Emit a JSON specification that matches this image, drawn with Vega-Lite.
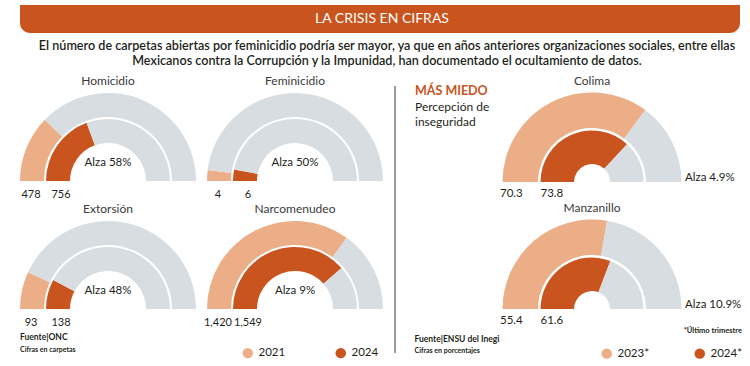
{
  "$schema": "https://vega.github.io/schema/vega-lite/v6.json",
  "padding": {"left": 20, "top": 5, "right": 0, "bottom": 0},
  "background": "white",
  "config": {
    "view": {"stroke": null},
    "font": "Lato",
    "text": {"font": "Lato", "color": "#231f20"},
    "title": {"font": "Lato", "color": "#231f20", "subtitleFont": "Lato", "subtitleColor": "#231f20"},
    "header": {"title": null, "labelFont": "Lato", "labelFontSize": 12, "labelColor": "#3a3a3a", "labelPadding": 5}
  },
  "datasets": {
    "carpetas": [
      {"panel": "Homicidio", "ring": "exterior", "key": "2021", "amount": 478},
      {"panel": "Homicidio", "ring": "exterior", "key": "resto", "amount": 1472},
      {"panel": "Homicidio", "ring": "interior", "key": "2024", "amount": 756, "alza": "Alza 58%"},
      {"panel": "Homicidio", "ring": "interior", "key": "resto", "amount": 1194},
      {"panel": "Feminicidio", "ring": "exterior", "key": "2021", "amount": 4},
      {"panel": "Feminicidio", "ring": "exterior", "key": "resto", "amount": 96},
      {"panel": "Feminicidio", "ring": "interior", "key": "2024", "amount": 6, "alza": "Alza 50%"},
      {"panel": "Feminicidio", "ring": "interior", "key": "resto", "amount": 94},
      {"panel": "Extorsión", "ring": "exterior", "key": "2021", "amount": 93},
      {"panel": "Extorsión", "ring": "exterior", "key": "resto", "amount": 586},
      {"panel": "Extorsión", "ring": "interior", "key": "2024", "amount": 138, "alza": "Alza 48%"},
      {"panel": "Extorsión", "ring": "interior", "key": "resto", "amount": 752},
      {"panel": "Narcomenudeo", "ring": "exterior", "key": "2021", "amount": 1420},
      {"panel": "Narcomenudeo", "ring": "exterior", "key": "resto", "amount": 609},
      {"panel": "Narcomenudeo", "ring": "interior", "key": "2024", "amount": 1549, "alza": "Alza 9%"},
      {"panel": "Narcomenudeo", "ring": "interior", "key": "resto", "amount": 463}
    ],
    "percepcion": [
      {"panel": "Colima", "ring": "exterior", "key": "2023*", "amount": 70.3},
      {"panel": "Colima", "ring": "exterior", "key": "resto", "amount": 29.7},
      {"panel": "Colima", "ring": "interior", "key": "2024*", "amount": 73.8, "alza": "Alza 4.9%"},
      {"panel": "Colima", "ring": "interior", "key": "resto", "amount": 26.2},
      {"panel": "Manzanillo", "ring": "exterior", "key": "2023*", "amount": 55.4},
      {"panel": "Manzanillo", "ring": "exterior", "key": "resto", "amount": 44.6},
      {"panel": "Manzanillo", "ring": "interior", "key": "2024*", "amount": 61.6, "alza": "Alza 10.9%"},
      {"panel": "Manzanillo", "ring": "interior", "key": "resto", "amount": 38.4}
    ]
  },
  "spacing": 6,
  "vconcat": [
    {
      "data": {"values": [{"banner": "LA CRISIS EN CIFRAS"}]},
      "width": 720,
      "height": 28,
      "title": {
        "text": ["El número de carpetas abiertas por feminicidio podría ser mayor, ya que en años anteriores organizaciones sociales, entre ellas", "Mexicanos contra la Corrupción y la Impunidad, han documentado el ocultamiento de datos."],
        "orient": "bottom", "anchor": "middle", "offset": 7, "fontSize": 12.6, "fontWeight": 600, "lineHeight": 15, "dx": 7
      },
      "layer": [
        {"mark": {"type": "rect", "color": "#C9541E", "cornerRadiusBottomLeft": 10, "cornerRadiusBottomRight": 10},
         "encoding": {"x": {"value": 0}, "x2": {"value": "width"}, "y": {"value": 0}, "y2": {"value": "height"}}},
        {"mark": {"type": "text", "color": "white", "fontSize": 14, "align": "center", "baseline": "middle", "dx": 2},
         "encoding": {"text": {"field": "banner"}}}
      ]
    },
    {
      "spacing": 11,
      "resolve": {"scale": {"color": "independent", "theta": "independent"}, "legend": {"color": "independent"}},
      "hconcat": [
        {
          "data": {"name": "carpetas"},
          "facet": {"field": "panel", "type": "nominal", "sort": ["Homicidio", "Feminicidio", "Extorsión", "Narcomenudeo"]},
          "columns": 2,
          "spacing": {"column": 7, "row": 2},
          "title": {"text": "Fuente|ONC", "subtitle": "Cifras en carpetas", "orient": "bottom", "anchor": "start", "offset": -26, "fontSize": 8.5, "fontWeight": "bold", "subtitleFontSize": 7, "subtitleFontWeight": "bold", "subtitlePadding": 4},
          "spec": {
            "width": 176,
            "height": 88,
            "layer": [
              {"transform": [{"filter": "datum.ring == 'exterior'"}],
               "mark": {"type": "arc", "radius": 88, "radius2": 64},
               "encoding": {
                 "theta": {"field": "amount", "type": "quantitative", "stack": "normalize", "scale": {"domain": [0, 1], "range": [-1.5708, 1.5708]}},
                 "order": {"field": "key", "sort": "ascending"},
                 "color": {"field": "key", "type": "nominal", "scale": {"domain": ["2021", "2024", "resto"], "range": ["#ECAE86", "#C9541E", "#D8DDE1"]},
                   "legend": {"orient": "none", "legendX": 222, "legendY": 254, "direction": "horizontal", "values": ["2021", "2024"], "title": null, "symbolType": "circle", "symbolSize": 110, "symbolStrokeWidth": 0, "labelFontSize": 11.5, "labelOffset": 5, "columnPadding": 49, "labelColor": "#231f20", "labelFont": "Lato", "padding": 0}},
                 "y": {"value": "height"}
               }},
              {"transform": [{"filter": "datum.ring == 'interior'"}],
               "mark": {"type": "arc", "radius": 62, "radius2": 38},
               "encoding": {
                 "theta": {"field": "amount", "type": "quantitative", "stack": "normalize", "scale": {"domain": [0, 1], "range": [-1.5708, 1.5708]}},
                 "order": {"field": "key", "sort": "ascending"},
                 "color": {"field": "key", "type": "nominal"},
                 "y": {"value": "height"}
               }},
              {"transform": [{"filter": "datum.ring == 'exterior' && datum.key != 'resto'"}],
               "mark": {"type": "text", "radius": 77, "theta": -1.5708, "dy": 14, "fontSize": 11, "align": "center", "baseline": "middle"},
               "encoding": {"text": {"field": "amount", "type": "quantitative", "format": ",d"}, "y": {"value": "height"}}},
              {"transform": [{"filter": "datum.ring == 'interior' && datum.key != 'resto'"}],
               "mark": {"type": "text", "radius": 47, "theta": -1.5708, "dy": 14, "fontSize": 11, "align": "center", "baseline": "middle"},
               "encoding": {"text": {"field": "amount", "type": "quantitative", "format": ",d"}, "y": {"value": "height"}}},
              {"transform": [{"filter": "datum.ring == 'interior' && datum.key != 'resto'"}],
               "mark": {"type": "text", "dy": -18, "fontSize": 11.5, "align": "center", "baseline": "middle"},
               "encoding": {"text": {"field": "alza", "type": "nominal"}, "y": {"value": "height"}}}
            ]
          }
        },
        {
          "spacing": 0,
          "hconcat": [
            {
              "width": 60,
              "height": 260,
              "data": {"values": [{"linea": "MÁS MIEDO", "tipo": "titulo"}, {"linea": "Percepción de", "tipo": "texto"}, {"linea": "inseguridad", "tipo": "texto"}]},
              "title": {"text": "Fuente|ENSU del Inegi", "subtitle": "Cifras en porcentajes", "orient": "bottom", "anchor": "start", "offset": -19, "dx": 20, "fontSize": 8.5, "fontWeight": "bold", "subtitleFontSize": 7, "subtitleFontWeight": "bold", "subtitlePadding": 4},
              "layer": [
                {"data": {"values": [{}]},
                 "mark": {"type": "rule", "color": "#3a3a3a", "strokeWidth": 1},
                 "encoding": {"x": {"value": 0}, "y": {"value": -7}, "y2": {"value": "height"}}},
                {"transform": [{"filter": "datum.tipo == 'titulo'"}],
                 "mark": {"type": "text", "align": "left", "baseline": "middle", "fontSize": 12.5, "fontWeight": "bold", "color": "#C9541E"},
                 "encoding": {"x": {"value": 20}, "y": {"field": "linea", "type": "ordinal", "sort": ["MÁS MIEDO", "Percepción de", "inseguridad"], "axis": null, "scale": {"type": "point", "domain": ["MÁS MIEDO", "Percepción de", "inseguridad"], "range": [-2, 29], "padding": 0}}, "text": {"field": "linea"}}},
                {"transform": [{"filter": "datum.tipo == 'texto'"}],
                 "mark": {"type": "text", "align": "left", "baseline": "middle", "fontSize": 12},
                 "encoding": {"x": {"value": 20}, "y": {"field": "linea", "type": "ordinal", "sort": ["MÁS MIEDO", "Percepción de", "inseguridad"], "axis": null, "scale": {"type": "point", "domain": ["MÁS MIEDO", "Percepción de", "inseguridad"], "range": [-2, 29], "padding": 0}}, "text": {"field": "linea"}}}
              ]
            },
            {
              "data": {"name": "percepcion"},
              "facet": {"field": "panel", "type": "nominal", "sort": ["Colima", "Manzanillo"]},
              "columns": 1,
              "spacing": {"row": 1},
              "spec": {
                "width": 180,
                "height": 89,
                "layer": [
                  {"transform": [{"filter": "datum.ring == 'exterior'"}],
                   "mark": {"type": "arc", "radius": 89.5, "radius2": 54},
                   "encoding": {
                     "theta": {"field": "amount", "type": "quantitative", "stack": "normalize", "scale": {"domain": [0, 1], "range": [-1.5708, 1.5708]}},
                     "order": {"field": "key", "sort": "ascending"},
                     "color": {"field": "key", "type": "nominal", "scale": {"domain": ["2023*", "2024*", "resto"], "range": ["#ECAE86", "#C9541E", "#D8DDE1"]},
                       "legend": {"orient": "none", "legendX": 206, "legendY": 234, "direction": "horizontal", "values": ["2023*", "2024*"], "title": "*Último trimestre", "titleAnchor": "end", "titleFontSize": 7.5, "titleFontWeight": "bold", "titlePadding": 13, "titleColor": "#231f20", "titleFont": "Lato", "symbolType": "circle", "symbolSize": 110, "symbolStrokeWidth": 0, "labelFontSize": 11.5, "labelOffset": 5, "columnPadding": 44, "labelColor": "#231f20", "labelFont": "Lato", "padding": 0}},
                     "y": {"value": "height"}
                   }},
                  {"transform": [{"filter": "datum.ring == 'interior'"}],
                   "mark": {"type": "arc", "radius": 51.5, "radius2": 18},
                   "encoding": {
                     "theta": {"field": "amount", "type": "quantitative", "stack": "normalize", "scale": {"domain": [0, 1], "range": [-1.5708, 1.5708]}},
                     "order": {"field": "key", "sort": "ascending"},
                     "color": {"field": "key", "type": "nominal"},
                     "y": {"value": "height"}
                   }},
                  {"transform": [{"filter": "datum.ring == 'exterior' && datum.key != 'resto'"}],
                   "mark": {"type": "text", "radius": 92, "theta": -1.5708, "dy": 12, "fontSize": 11.5, "align": "left", "baseline": "middle"},
                   "encoding": {"text": {"field": "amount", "type": "quantitative", "format": ".1f"}, "y": {"value": "height"}}},
                  {"transform": [{"filter": "datum.ring == 'interior' && datum.key != 'resto'"}],
                   "mark": {"type": "text", "radius": 51.5, "theta": -1.5708, "dy": 12, "fontSize": 11.5, "align": "left", "baseline": "middle"},
                   "encoding": {"text": {"field": "amount", "type": "quantitative", "format": ".1f"}, "y": {"value": "height"}}},
                  {"transform": [{"filter": "datum.ring == 'interior' && datum.key != 'resto'"}],
                   "mark": {"type": "text", "radius": 93, "theta": 1.5708, "dy": -4, "fontSize": 11.5, "align": "left", "baseline": "middle"},
                   "encoding": {"text": {"field": "alza", "type": "nominal"}, "y": {"value": "height"}}}
                ]
              }
            }
          ]
        }
      ]
    }
  ]
}
